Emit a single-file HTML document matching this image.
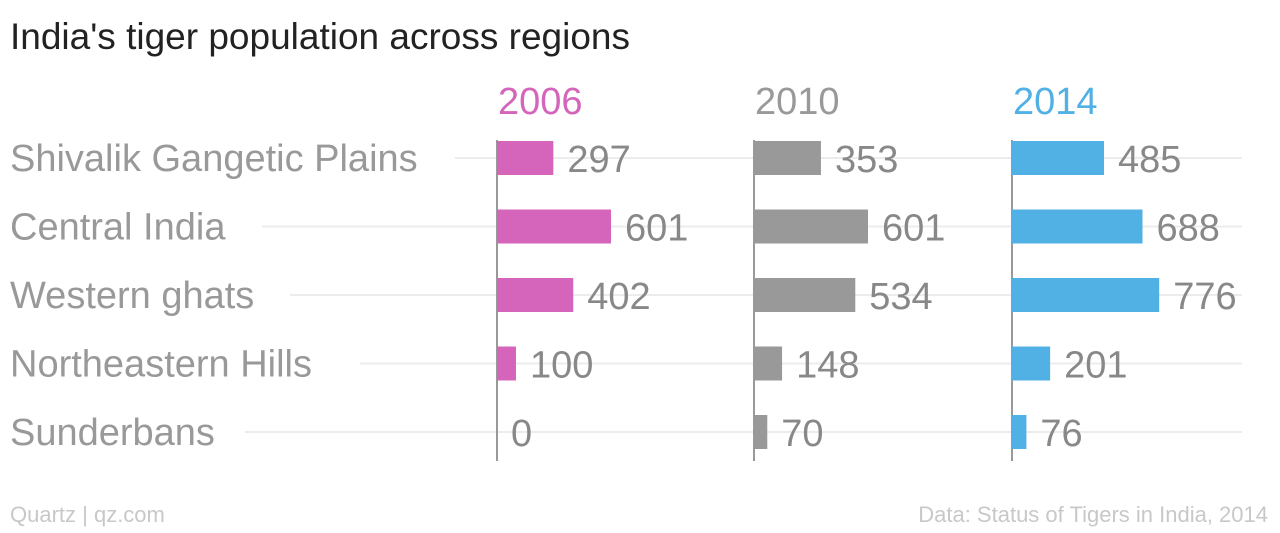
<!DOCTYPE html>
<html><head><meta charset="utf-8"><style>
body{margin:0;background:#fff;width:1280px;height:528px;overflow:hidden;font-family:"Liberation Sans",sans-serif}
</style></head><body>
<svg width="1280" height="528">
<text x="10" y="49" font-size="37" fill="#222">India's tiger population across regions</text>
<g id="g"></g>
<text x="10" y="522" font-size="22" fill="#c8c8c8">Quartz | qz.com</text>
<text x="1268" y="522" font-size="22" fill="#c8c8c8" text-anchor="end">Data: Status of Tigers in India, 2014</text>
</svg>
<script>
const categories=["Shivalik Gangetic Plains","Central India","Western ghats","Northeastern Hills","Sunderbans"];
const years=["2006","2010","2014"];
const v2006=[297,601,402,100,0];
const v2010=[353,601,534,148,70];
const v2014=[485,688,776,201,76];
const series=[v2006,v2010,v2014];
const colors=["#d465bb","#999999","#52b1e4"];
const colX=[497,754,1012];
const scale=114/601;
const rowY=i=>158+i*68.5;
const xs=(c,v)=>colX[c]+v*scale;
const g=document.getElementById('g');
const NS="http://www.w3.org/2000/svg";
function mk(t,a){const e=document.createElementNS(NS,t);for(const k in a)e.setAttribute(k,a[k]);g.appendChild(e);return e;}
const labelEnd=[455,262,290,360,245];
categories.forEach((c,i)=>{
  const l=mk('line',{x1:labelEnd[i],x2:1242,y1:rowY(i),y2:rowY(i),stroke:'#ececec','stroke-width':2});
  
  
  const t=mk('text',{x:10,y:rowY(i)+13,'font-size':38,fill:'#999'});
  t.textContent=c;
  
  
});
years.forEach((y,c)=>{
  const h=mk('text',{x:colX[c]+1,y:114,'font-size':38,fill:colors[c]});
  h.textContent=y;
  
  
  const a=mk('line',{x1:colX[c],x2:colX[c],y1:140,y2:461,stroke:'#999','stroke-width':2});
  
  
  series[c].forEach((v,i)=>{
    const w=xs(c,v)-colX[c];
    const r=mk('rect',{x:colX[c],y:rowY(i)-17,width:w,height:34,fill:colors[c]});
    
    
    const t=mk('text',{x:colX[c]+w+14,y:rowY(i)+14,'font-size':38,fill:'#888'});
    t.textContent=v;
    
    
  });
});
</script>
</body></html>
